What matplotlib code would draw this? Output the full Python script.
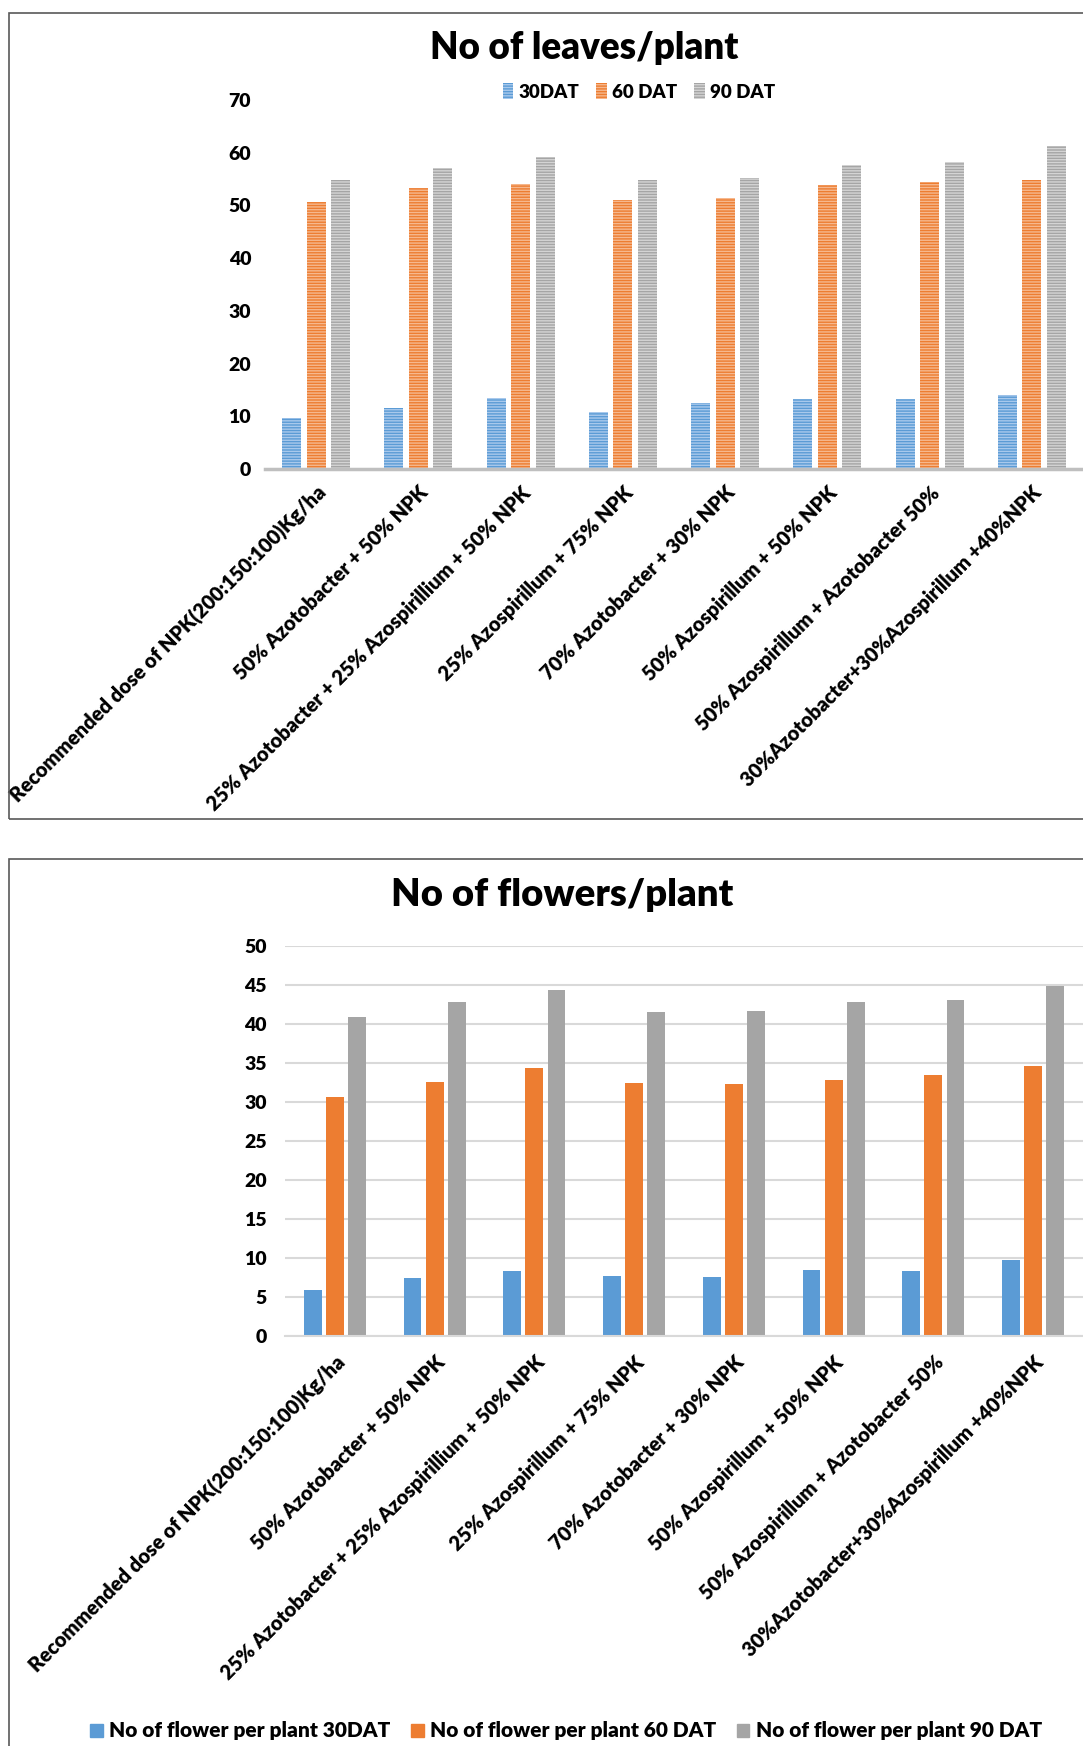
import numpy as np
import matplotlib
matplotlib.use("Agg")
import matplotlib.pyplot as plt
from matplotlib.patches import Rectangle, Patch

plt.rcParams['font.family'] = ['Lato', 'DejaVu Sans']
plt.rcParams['font.weight'] = 'heavy'

treatments = [
    "Recommended dose of NPK(200:150:100)Kg/ha",
    "50% Azotobacter + 50% NPK",
    "25% Azotobacter + 25% Azospirillium + 50% NPK",
    "25% Azospirillum + 75% NPK",
    "70% Azotobacter + 30% NPK",
    "50% Azospirillum + 50% NPK",
    "50% Azospirillum + Azotobacter 50%",
    "30%Azotobacter+30%Azospirillum +40%NPK",
]

leaves_30 = [9.6, 11.6, 13.5, 10.8, 12.5, 13.3, 13.3, 14.0]
leaves_60 = [50.7, 53.3, 54.1, 51.0, 51.4, 53.8, 54.5, 54.8]
leaves_90 = [54.8, 57.1, 59.2, 54.8, 55.2, 57.7, 58.2, 61.2]
leaves_labels = ["30DAT", "60 DAT", "90 DAT"]

flowers_30 = [5.9, 7.5, 8.3, 7.7, 7.6, 8.4, 8.3, 9.7]
flowers_60 = [30.6, 32.6, 34.3, 32.4, 32.3, 32.8, 33.4, 34.6]
flowers_90 = [40.9, 42.8, 44.3, 41.6, 41.7, 42.8, 43.1, 44.9]
flowers_labels = ["No of flower per plant 30DAT",
                  "No of flower per plant 60 DAT",
                  "No of flower per plant 90 DAT"]

colors = ["#5B9BD5", "#ED7D31", "#A5A5A5"]
stripe_colors = ["#A9C9EC", "#F6B88E", "#D4D4D4"]

W, H = 1083, 1746
fig = plt.figure(figsize=(W / 100, H / 100), dpi=100)

# chart area borders
fig.add_artist(Rectangle((9 / W, 1 - 819 / H), 1.2, (819 - 13) / H,
                         transform=fig.transFigure, fill=False,
                         edgecolor="#595959", lw=1.2))
fig.add_artist(Rectangle((9 / W, -0.1), 1.2, 0.1 + 1 - 859 / H,
                         transform=fig.transFigure, fill=False,
                         edgecolor="#595959", lw=1.2))

x = np.arange(len(treatments))

# ---- leaves chart ----
ax1 = fig.add_axes([265 / W, 1 - 469 / H, 1 - 265 / W, (469 - 100) / H])
bw = 0.185
step = 0.24
for i, vals in enumerate([leaves_30, leaves_60, leaves_90]):
    ax1.bar(x + (i - 1) * step, vals, bw, color=colors[i],
            edgecolor=stripe_colors[i], hatch="------", lw=0,
            label=leaves_labels[i], zorder=2)
ax1.set_xlim(-0.5, 7.5)
ax1.set_ylim(0, 70)
ax1.set_yticks(range(0, 71, 10))
for s in ["top", "right", "left"]:
    ax1.spines[s].set_visible(False)
ax1.spines["bottom"].set_color("#BFBFBF")
ax1.spines["bottom"].set_linewidth(2.5)
ax1.tick_params(axis="both", length=0, labelsize=14)
ax1.tick_params(axis="y", pad=10)
ax1.set_xticks(x)
ax1.set_xticklabels(treatments, rotation=45, ha="right",
                    rotation_mode="anchor", fontsize=14.5)
ax1.tick_params(axis="x", pad=10)

fig.text(584 / W, 1 - 48 / H, "No of leaves/plant", ha="center",
         va="center", fontsize=26.5, fontweight="heavy")
fig.legend(handles=ax1.get_legend_handles_labels()[0], labels=leaves_labels,
           loc="center", bbox_to_anchor=(639 / W, 1 - 92 / H), ncol=3,
           frameon=False, fontsize=13.5, handlelength=0.55,
           handleheight=0.9, handletextpad=0.3, columnspacing=0.9)

# ---- flowers chart ----
ax2 = fig.add_axes([285 / W, 1 - 1336 / H, 1 - 285 / W, (1336 - 946) / H])
bw2 = 0.178
step2 = 0.223
for i, vals in enumerate([flowers_30, flowers_60, flowers_90]):
    ax2.bar(x + (i - 1) * step2, vals, bw2, color=colors[i],
            label=flowers_labels[i], zorder=2)
ax2.set_xlim(-0.5, 7.5)
ax2.set_ylim(0, 50)
ax2.set_yticks(range(0, 51, 5))
ax2.grid(axis="y", color="#D9D9D9", lw=1.5, zorder=0)
for s in ["top", "right", "left"]:
    ax2.spines[s].set_visible(False)
ax2.spines["bottom"].set_color("#D9D9D9")
ax2.spines["bottom"].set_linewidth(1.5)
ax2.tick_params(axis="both", length=0, labelsize=14)
ax2.tick_params(axis="y", pad=13)
ax2.set_xticks(x)
ax2.set_xticklabels(treatments, rotation=45, ha="right",
                    rotation_mode="anchor", fontsize=14.5)
ax2.tick_params(axis="x", pad=12)

fig.text(562 / W, 1 - 895 / H, "No of flowers/plant", ha="center",
         va="center", fontsize=27.5, fontweight="heavy")
fig.legend(handles=[Patch(color=c) for c in colors], labels=flowers_labels,
           loc="center", bbox_to_anchor=(566 / W, 1 - 1731 / H), ncol=3,
           frameon=False, fontsize=15, handlelength=0.6,
           handleheight=0.6, handletextpad=0.3, columnspacing=1.0)

plt.savefig("out.png", dpi=100)
